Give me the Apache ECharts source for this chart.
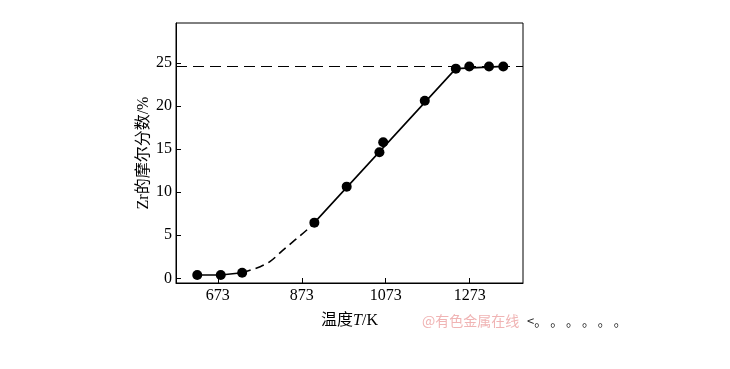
<!DOCTYPE html>
<html><head><meta charset="utf-8">
<script src="https://cdn.jsdelivr.net/npm/echarts@6/dist/echarts.min.js"></script>
<style>html,body{margin:0;padding:0;background:#fff}#c{width:730px;height:369px}</style>
</head><body><div id="c"></div>
<script>
// Measured data (temperature K, Zr mole fraction %)
const pointsT = [624, 680, 731, 903, 980, 1058, 1067, 1166, 1240, 1272, 1319, 1353];
const pointsV = [0.38, 0.38, 0.65, 6.46, 10.64, 14.63, 15.79, 20.62, 24.34, 24.6, 24.6, 24.6];
const lowCurveT = [624, 680, 731];
const lowCurveV = [0.38, 0.38, 0.65];
const dashCurveT = [731, 746, 774, 797, 829, 857, 885, 903];
const dashCurveV = [0.65, 0.88, 1.35, 1.93, 3.29, 4.45, 5.61, 6.46];
const mainCurveT = [903, 1240, 1353];
const mainCurveV = [6.46, 24.34, 24.6];
const limitValue = 24.6;
const xTicks = [673, 873, 1073, 1273];
const yTicks = [0, 5, 10, 15, 20, 25];

const zip = (a, b) => a.map((v, i) => [v, b[i]]);
const serif = "'Liberation Serif', 'Noto Sans CJK SC', serif";

const chart = echarts.init(document.getElementById('c'));
chart.setOption({
  animation: false,
  backgroundColor: '#fff',
  grid: { left: 176, right: 207, top: 23, bottom: 86, show: true, borderColor: '#000', borderWidth: 1 },
  xAxis: {
    type: 'value', min: 573.4, max: 1400,
    name: '温度{i|T}/K', nameLocation: 'middle', nameGap: 30,
    nameTextStyle: { fontFamily: serif, fontSize: 16, color: '#000',
      rich: { i: { fontFamily: serif, fontStyle: 'italic', fontSize: 16, color: '#000' } } },
    axisLine: { show: true, onZero: false, lineStyle: { color: '#000', width: 1 } },
    axisTick: { show: true, inside: true, length: 5, customValues: xTicks, lineStyle: { color: '#000' } },
    axisLabel: { customValues: xTicks, formatter: v => String(v), fontFamily: serif, fontSize: 16, color: '#000', margin: 5 },
    splitLine: { show: false }
  },
  yAxis: {
    type: 'value', min: -0.546, max: 29.64,
    name: 'Zr的摩尔分数/%', nameLocation: 'middle', nameGap: 24, nameRotate: 90,
    nameTextStyle: { fontFamily: serif, fontSize: 16, color: '#000' },
    axisLine: { show: true, onZero: false, lineStyle: { color: '#000', width: 1 } },
    axisTick: { show: true, inside: true, length: 5, customValues: yTicks, lineStyle: { color: '#000' } },
    axisLabel: { customValues: yTicks, formatter: v => String(v), fontFamily: serif, fontSize: 16, color: '#000', margin: 4 },
    splitLine: { show: false }
  },
  series: [
    { type: 'line', data: zip(lowCurveT, lowCurveV), symbol: 'none',
      lineStyle: { color: '#000', width: 1.6 } },
    { type: 'line', data: zip(dashCurveT, dashCurveV), symbol: 'none', smooth: 0.3,
      lineStyle: { color: '#000', width: 1.6, type: [9, 5] } },
    { type: 'line', data: zip(mainCurveT, mainCurveV), symbol: 'none',
      lineStyle: { color: '#000', width: 1.6 },
      markLine: { silent: true, symbol: 'none', label: { show: false },
        lineStyle: { color: '#000', width: 1, type: [11, 6] },
        data: [{ yAxis: limitValue }] } },
    { type: 'scatter', data: zip(pointsT, pointsV), symbol: 'circle', symbolSize: 10,
      itemStyle: { color: '#000', opacity: 1 } }
  ],
  graphic: [
    { type: 'text', left: 422, top: 314,
      style: { text: '@有色金属在线', fontFamily: "'Noto Sans CJK SC', sans-serif", fontSize: 14, fill: '#f0b4b4' } },
    { type: 'text', left: 527, top: 315,
      style: { text: '<。 。 。 。 。 。', fontFamily: "'Noto Sans CJK SC', sans-serif", fontSize: 13, fill: '#222' } }
  ]
});
</script></body></html>
